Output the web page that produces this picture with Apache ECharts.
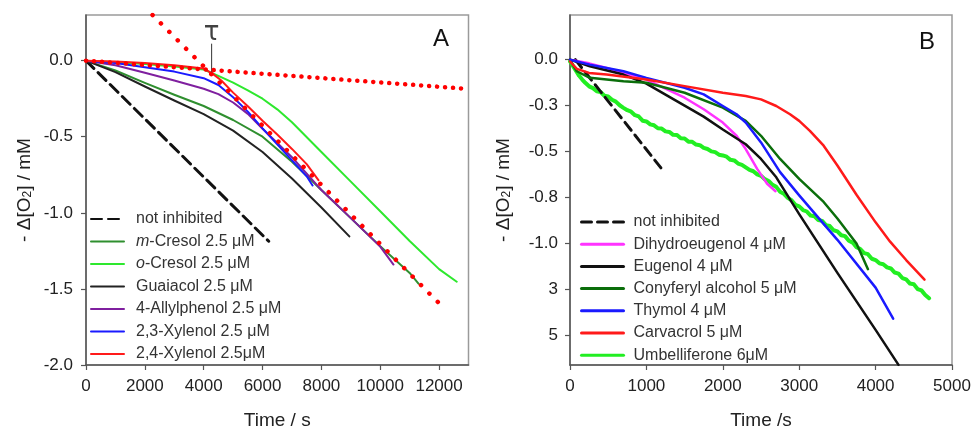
<!DOCTYPE html>
<html><head><meta charset="utf-8">
<script src="https://cdn.jsdelivr.net/npm/echarts@6.0.0/dist/echarts.min.js"></script>
<style>html,body{margin:0;padding:0;background:#fff}#c{width:974px;height:435px}</style>
</head><body><div id="c"></div>
<script>
// ---------- Panel A data ----------
const xTicksA = [0, 2000, 4000, 6000, 8000, 10000, 12000];
const xTickLabelsA = ['0', '2000', '4000', '6000', '8000', '10000', '12000'];
const yTicksA = [-2.0, -1.5, -1.0, -0.5, 0.0];
const yTickLabelsA = ['-2.0', '-1.5', '-1.0', '-0.5', '0.0'];

const notInhibitedA = [[0, 0], [6210, -1.187]];
const mCresol = [[0,0],[500,-0.033],[1000,-0.065],[2000,-0.146],[3000,-0.224],[4000,-0.298],[5000,-0.39],[6000,-0.5],[7000,-0.665],[8000,-0.85],[9000,-1.035],[10000,-1.22],[11000,-1.395],[11300,-1.466]];
const oCresol = [[0,0],[1000,-0.01],[2000,-0.022],[3000,-0.038],[4000,-0.058],[4500,-0.1],[5000,-0.145],[5500,-0.195],[6000,-0.25],[6500,-0.32],[7000,-0.405],[8000,-0.6],[9000,-0.795],[10000,-0.99],[11000,-1.185],[12000,-1.37],[12600,-1.453]];
const guaiacol = [[0,0],[500,-0.038],[1000,-0.075],[2000,-0.17],[3000,-0.262],[4000,-0.352],[5000,-0.46],[6000,-0.6],[7000,-0.775],[8000,-0.965],[8950,-1.155]];
const allylphenol = [[0,0],[1000,-0.03],[2000,-0.08],[3000,-0.131],[4000,-0.185],[4500,-0.22],[5000,-0.275],[5500,-0.35],[6000,-0.447],[7000,-0.635],[7700,-0.785],[8000,-0.85],[9000,-1.035],[10000,-1.222],[10450,-1.34]];
const xylenol23 = [[0,0],[1000,-0.015],[2000,-0.044],[3000,-0.072],[4000,-0.115],[4500,-0.16],[5000,-0.24],[5500,-0.335],[6000,-0.445],[6500,-0.55],[7000,-0.655],[7500,-0.76],[7700,-0.82]];
const xylenol24 = [[0,0],[1000,-0.006],[2000,-0.016],[3000,-0.03],[4000,-0.052],[4300,-0.085],[4600,-0.13],[5000,-0.21],[5500,-0.3],[6000,-0.395],[6500,-0.485],[7000,-0.58],[7500,-0.68],[7900,-0.785]];
const tangentFast = [[2261, 0.3], [12034, -1.601]];
const tangentSlow = [[0, 0], [13000, -0.186]];
const tauLine = [[4270, 0.109], [4270, -0.074]];
const tauLabelPos = [[4270, 0.178]];

// ---------- Panel B data ----------
const xTicksB = [0, 1000, 2000, 3000, 4000, 5000];
const yTicksB = [0.0, -0.25, -0.5, -0.75, -1.0, -1.25, -1.5];
const yTickLabelsB = ['0.0', '-0.3', '-0.5', '-0.8', '-1.0', '3', '5'];

const notInhibitedB = [[70, 0], [1200, -0.594]];
const dihydroeugenol = [[0,0],[250,-0.02],[480,-0.045],[1000,-0.108],[1500,-0.207],[1750,-0.27],[2000,-0.342],[2180,-0.414],[2300,-0.486],[2450,-0.594],[2580,-0.675],[2690,-0.716]];
const eugenol = [[0,0],[260,-0.036],[700,-0.081],[1000,-0.13],[1500,-0.25],[1750,-0.31],[2000,-0.38],[2300,-0.46],[2500,-0.54],[2700,-0.64],[3000,-0.84],[3500,-1.16],[4000,-1.47],[4300,-1.66]];
const conyferyl = [[0,0],[40,-0.03],[90,-0.063],[260,-0.099],[700,-0.117],[1000,-0.126],[1500,-0.18],[2000,-0.261],[2300,-0.333],[2500,-0.414],[2750,-0.54],[3000,-0.648],[3320,-0.774],[3500,-0.864],[3750,-1.0],[3900,-1.14]];
const thymol = [[0,0],[260,-0.027],[700,-0.063],[1000,-0.099],[1500,-0.153],[1750,-0.189],[2000,-0.252],[2180,-0.297],[2300,-0.342],[2500,-0.45],[2750,-0.612],[3000,-0.738],[3500,-0.98],[4000,-1.24],[4230,-1.409]];
const carvacrol = [[0,-0.01],[90,-0.05],[250,-0.072],[480,-0.081],[1000,-0.108],[1500,-0.144],[2000,-0.18],[2300,-0.198],[2500,-0.216],[2700,-0.252],[2880,-0.297],[3000,-0.333],[3140,-0.387],[3320,-0.468],[3500,-0.576],[3750,-0.735],[4000,-0.885],[4190,-0.99],[4400,-1.09],[4640,-1.197]];
const umbelliferone = [[0,-0.01],[40,-0.035],[80,-0.062],[120,-0.088],[160,-0.108],[200,-0.126],[250,-0.145],[300,-0.155],[350,-0.172],[400,-0.176],[450,-0.196],[500,-0.2],[550,-0.218],[600,-0.228],[650,-0.248],[700,-0.262],[750,-0.275],[800,-0.283],[850,-0.302],[900,-0.309],[950,-0.332],[1000,-0.336],[1050,-0.352],[1100,-0.357],[1150,-0.373],[1200,-0.375],[1250,-0.39],[1300,-0.393],[1350,-0.409],[1400,-0.41],[1450,-0.428],[1500,-0.429],[1550,-0.446],[1600,-0.447],[1650,-0.462],[1700,-0.465],[1750,-0.48],[1800,-0.486],[1850,-0.499],[1900,-0.503],[1950,-0.517],[2000,-0.521],[2050,-0.528],[2100,-0.545],[2150,-0.548],[2200,-0.565],[2250,-0.572],[2300,-0.586],[2350,-0.6],[2400,-0.607],[2450,-0.624],[2500,-0.632],[2550,-0.65],[2600,-0.66],[2650,-0.681],[2700,-0.692],[2750,-0.718],[2800,-0.73],[2850,-0.752],[2900,-0.765],[2950,-0.79],[3000,-0.798],[3050,-0.818],[3100,-0.826],[3150,-0.848],[3200,-0.852],[3250,-0.872],[3300,-0.877],[3350,-0.9],[3400,-0.905],[3450,-0.928],[3500,-0.934],[3550,-0.955],[3600,-0.96],[3650,-0.985],[3700,-0.995],[3750,-1.02],[3800,-1.03],[3850,-1.052],[3900,-1.058],[3950,-1.083],[4000,-1.09],[4050,-1.108],[4100,-1.113],[4150,-1.13],[4200,-1.136],[4250,-1.158],[4300,-1.164],[4350,-1.188],[4400,-1.195],[4450,-1.218],[4500,-1.222],[4550,-1.248],[4600,-1.255],[4650,-1.28],[4700,-1.298]];

// ---------- chart ----------
const FONT = 'Liberation Sans, Arial, sans-serif';
const chart = echarts.init(document.getElementById('c'), null, {renderer: 'canvas'});

function lookup(vals, labels) {
  return function (v) {
    for (let i = 0; i < vals.length; i++) if (Math.abs(vals[i] - v) < 1e-6) return labels[i];
    return '';
  };
}
const AXC = '#555';
function axisBase(extra) {
  return Object.assign({
    type: 'value',
    splitLine: {show: false},
    nameTextStyle: {color: '#222', fontSize: 19, fontFamily: FONT,
      rich: {s: {fontSize: 12, fontFamily: FONT, color: '#222', verticalAlign: 'bottom', lineHeight: 12}}}
  }, extra);
}
function axisLineCfg() { return {show: true, onZero: false, lineStyle: {color: AXC, width: 1.5}}; }
function tickCfg(vals) { return {show: true, inside: false, length: 5, customValues: vals, lineStyle: {color: AXC, width: 1.2}}; }
function labelCfg(vals, labels, margin) {
  return {color: '#222', fontSize: 17, fontFamily: FONT, margin: margin, customValues: vals, formatter: lookup(vals, labels)};
}
const yName = '- Δ[O{s|2}] / mM';

function ln(name, data, color, width, type, gi, z) {
  return {
    type: 'line', name: name, xAxisIndex: gi, yAxisIndex: gi,
    data: data,
    showSymbol: false, symbol: 'none', smooth: false, z: z || 2,
    lineStyle: {color: color, width: width, type: type || 'solid', cap: 'round', join: 'round'},
    itemStyle: {color: color}, emphasis: {disabled: true}
  };
}

const namesA = ['not inhibited', 'm-Cresol 2.5 μM', 'o-Cresol 2.5 μM', 'Guaiacol 2.5 μM', '4-Allylphenol 2.5 μM', '2,3-Xylenol 2.5 μM', '2,4-Xylenol 2.5μM'];
const namesB = ['not inhibited (B)', 'Dihydroeugenol 4 μM', 'Eugenol 4 μM', 'Conyferyl alcohol 5 μM', 'Thymol 4 μM', 'Carvacrol 5 μM', 'Umbelliferone 6μM'];

const series = [
  ln(namesA[0], notInhibitedA, '#111', 3, [11, 6], 0),
  ln(namesA[1], mCresol, '#2f8f2f', 2, 'solid', 0),
  ln(namesA[2], oCresol, '#2ee82e', 2, 'solid', 0),
  ln(namesA[3], guaiacol, '#222', 2, 'solid', 0),
  ln(namesA[4], allylphenol, '#7f1f9f', 2, 'solid', 0),
  ln(namesA[5], xylenol23, '#1a1aff', 2, 'solid', 0),
  ln(namesA[6], xylenol24, '#ff1a1a', 2, 'solid', 0),
  ln('tangent fast', tangentFast, '#ff0000', 4.5, [0.1, 11.8], 0, 3),
  ln('tangent slow', tangentSlow, '#ff0000', 4.5, [0.1, 7.9], 0, 3),
  ln('tau line', tauLine, '#333', 1, 'solid', 0),
  {type: 'scatter', name: 'tau', xAxisIndex: 0, yAxisIndex: 0, data: tauLabelPos, symbolSize: 1,
   itemStyle: {color: 'transparent'}, silent: true,
   label: {show: true, position: 'inside', formatter: 'τ', fontSize: 26, fontFamily: 'DejaVu Sans, sans-serif', color: '#111'}},

  ln(namesB[0], notInhibitedB, '#111', 3, [10, 6], 1),
  ln(namesB[1], dihydroeugenol, '#ff33ff', 2.5, 'solid', 1),
  ln(namesB[2], eugenol, '#111', 2.5, 'solid', 1),
  ln(namesB[3], conyferyl, '#0b6e0b', 2.5, 'solid', 1),
  ln(namesB[4], thymol, '#1a1aff', 2.5, 'solid', 1),
  ln(namesB[5], carvacrol, '#ff1a1a', 2.5, 'solid', 1),
  ln(namesB[6], umbelliferone, '#22ee22', 4, 'solid', 1, 1)
];

function legendFmt(name) {
  return name.replace(' (B)', '').replace(/^(m|o)-/, '{i|$1}-');
}

const option = {
  animation: false,
  backgroundColor: '#fff',
  grid: [
    {left: 86, top: 15, width: 382.5, height: 352.7, show: true, borderColor: '#9a9a9a', borderWidth: 1.5, backgroundColor: 'transparent'},
    {left: 570, top: 15, width: 382, height: 352.7, show: true, borderColor: '#9a9a9a', borderWidth: 1.5, backgroundColor: 'transparent'}
  ],
  xAxis: [
    axisBase({gridIndex: 0, min: 0, max: 13000, position: 'bottom',
      name: 'Time / s', nameLocation: 'middle', nameGap: 46,
      axisLine: axisLineCfg(), axisTick: tickCfg(xTicksA), axisLabel: labelCfg(xTicksA, xTickLabelsA, 13)}),
    axisBase({gridIndex: 1, min: 0, max: 5000, position: 'bottom',
      name: 'Time /s', nameLocation: 'middle', nameGap: 46,
      axisLine: axisLineCfg(), axisTick: tickCfg(xTicksB), axisLabel: labelCfg(xTicksB, xTicksB.map(String), 13)})
  ],
  yAxis: [
    axisBase({gridIndex: 0, min: -2.0, max: 0.3, position: 'left',
      name: yName, nameLocation: 'middle', nameGap: 52, nameRotate: 90,
      axisLine: axisLineCfg(), axisTick: tickCfg(yTicksA), axisLabel: labelCfg(yTicksA, yTickLabelsA, 13)}),
    axisBase({gridIndex: 1, min: -1.661, max: 0.243, position: 'left',
      name: yName, nameLocation: 'middle', nameGap: 57, nameRotate: 90,
      axisLine: axisLineCfg(), axisTick: tickCfg(yTicksB), axisLabel: labelCfg(yTicksB, yTickLabelsB, 12)})
  ],
  legend: [
    {data: namesA, orient: 'vertical', left: 90, top: 211, padding: 0, itemWidth: 33, itemHeight: 16, itemGap: 6.5,
     selectedMode: false, formatter: legendFmt, lineStyle: {width: 2}, itemStyle: {opacity: 0},
     textStyle: {fontSize: 16, fontFamily: FONT, color: '#333', padding: [0, 0, 0, 7],
       rich: {i: {fontStyle: 'italic', fontSize: 16, fontFamily: FONT, color: '#333'}}}},
    {data: namesB, orient: 'vertical', left: 580, top: 214, padding: 0, itemWidth: 42, itemHeight: 16, itemGap: 6.2,
     selectedMode: false, formatter: legendFmt, lineStyle: {width: 3}, itemStyle: {opacity: 0},
     textStyle: {fontSize: 16, fontFamily: FONT, color: '#333', padding: [0, 0, 0, 5]}}
  ],
  graphic: [
    {type: 'text', x: 441, y: 39, style: {text: 'A', fontSize: 24, fontFamily: FONT, fill: '#111', align: 'center', verticalAlign: 'middle'}},
    {type: 'text', x: 927, y: 42, style: {text: 'B', fontSize: 24, fontFamily: FONT, fill: '#111', align: 'center', verticalAlign: 'middle'}}
  ],
  series: series
};
chart.setOption(option);
</script></body></html>
